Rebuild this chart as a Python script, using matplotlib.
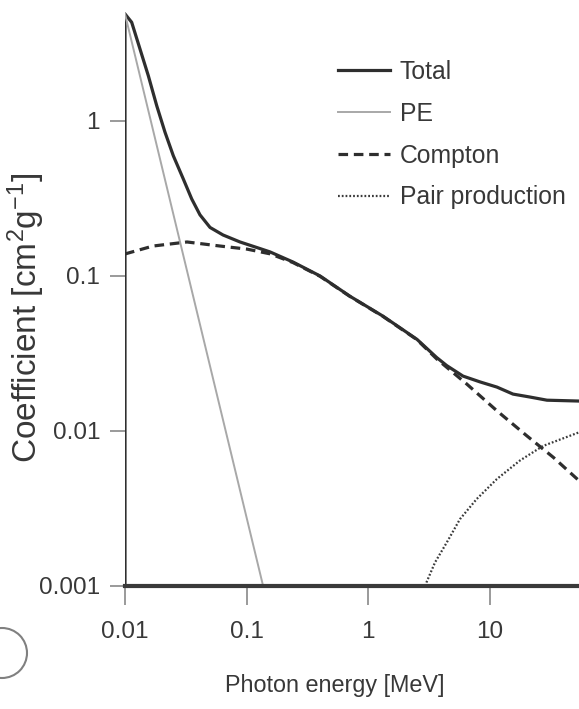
import numpy as np
import matplotlib
matplotlib.use("Agg")
import matplotlib.pyplot as plt
from matplotlib.patches import Circle
from matplotlib.transforms import IdentityTransform
from matplotlib.ticker import FixedLocator, NullLocator

plt.rcParams['font.family'] = ['Liberation Sans', 'DejaVu Sans']
plt.rcParams['mathtext.fontset'] = 'custom'
plt.rcParams['mathtext.rm'] = 'Liberation Sans'
plt.rcParams['mathtext.it'] = 'Liberation Sans'

# values (energy in MeV, coefficient in cm^2/g)
total_E = [0.01, 0.01, 0.01135, 0.01329, 0.01555, 0.01824, 0.02134, 0.02497, 0.0302,
           0.0354, 0.0414, 0.0501, 0.0641, 0.0884, 0.1244, 0.156, 0.2415, 0.403,
           0.71, 1.33, 2.53, 3.67, 4.45, 6.05, 8.4, 11.5, 15.6, 21.5, 29.7, 54.5]
total_v = [0.001, 4.9, 4.33, 2.91, 1.96, 1.255, 0.846, 0.597, 0.422,
           0.314, 0.248, 0.2056, 0.1838, 0.1657, 0.1517, 0.143, 0.123, 0.1,
           0.074, 0.055, 0.039, 0.0298, 0.0264, 0.0226, 0.0207, 0.0192, 0.0173, 0.01656, 0.0158, 0.0156]

pe_E = [0.01, 0.137]
pe_v = [4.9, 0.001]

compton_E = [0.01, 0.017, 0.0324, 0.0605, 0.101, 0.156, 0.2415, 0.403, 0.71,
             1.33, 2.53, 3.67, 6.49, 11.5, 20.2, 33.5, 54.5]
compton_v = [0.1387, 0.156, 0.1657, 0.156, 0.149, 0.139, 0.122, 0.0995, 0.0738,
             0.0548, 0.0388, 0.0292, 0.0201, 0.0135, 0.00933, 0.00676, 0.00478]

pair_E = [2.94, 3.56, 4.45, 5.71, 7.84, 11.5, 17.8, 27.5, 54.5]
pair_v = [0.001, 0.00142, 0.00191, 0.0027, 0.00364, 0.0049, 0.00645, 0.0080, 0.0098]

x_ticks = [0.01, 0.1, 1, 10]
x_labels = ['0.01', '0.1', '1', '10']
y_ticks = [0.001, 0.01, 0.1, 1]
y_labels = ['0.001', '0.01', '0.1', '1']

W, H = 579, 709
fig = plt.figure(figsize=(W / 100, H / 100), dpi=100)
ax = fig.add_axes([125 / W, (H - 586) / H, (W - 125) / W, 586 / H])

dark = '#2e2e2e'
txt = '#383838'
ax.plot(total_E, total_v, color=dark, lw=2.3, label='Total', solid_joinstyle='round')
ax.plot(pe_E, pe_v, color='#a8a8a8', lw=1.4, label='PE')
ax.plot(compton_E, compton_v, color=dark, lw=2.3, ls=(0, (3, 1.8)), label='Compton')
ax.plot(pair_E, pair_v, color='#3a3a3a', lw=1.6, ls=(0, (0.8, 0.9)), label='Pair production')

ax.set_xscale('log')
ax.set_yscale('log')
ax.set_xlim(0.01, 54.5)
ax.set_ylim(0.001, 6.03)

ax.xaxis.set_major_locator(FixedLocator(x_ticks))
ax.set_xticklabels(x_labels)
ax.yaxis.set_major_locator(FixedLocator(y_ticks))
ax.set_yticklabels(y_labels)
ax.xaxis.set_minor_locator(NullLocator())
ax.yaxis.set_minor_locator(NullLocator())
ax.tick_params(axis='both', direction='out', width=1.4, color='#9a9a9a',
               labelsize=17.5, labelcolor=txt)
ax.tick_params(axis='x', length=14, pad=11)
ax.tick_params(axis='y', length=11, pad=7)

for s in ['top', 'right', 'left']:
    ax.spines[s].set_visible(False)
ax.spines['bottom'].set_linewidth(3)
ax.spines['bottom'].set_color('#3a3a3a')

ax.set_xlabel('Photon energy [MeV]', fontsize=16.8, color=txt)
ax.xaxis.set_label_coords((335 - 125) / (W - 125), -(674 - 586) / 586)
ax.set_ylabel(r'Coefficient [cm$^2$g$^{-1}$]', fontsize=24, color=txt)
ax.yaxis.set_label_coords(-(125 - 47) / (W - 125), (586 - 318) / 586)

leg = ax.legend(loc='upper left', bbox_to_anchor=(338 / W, 1 - 60 / H),
                bbox_transform=fig.transFigure, frameon=False, fontsize=17.8,
                handlelength=2.1, handletextpad=0.4, labelspacing=0.72, borderpad=0,
                borderaxespad=0)
for t in leg.get_texts():
    t.set_color(txt)

# cropped panel marker at the lower left edge
fig.patches.append(Circle((2, H - 653), 25, transform=IdentityTransform(),
                          fill=False, edgecolor='#808080', lw=1.5))

fig.savefig('out.png', dpi=100)
